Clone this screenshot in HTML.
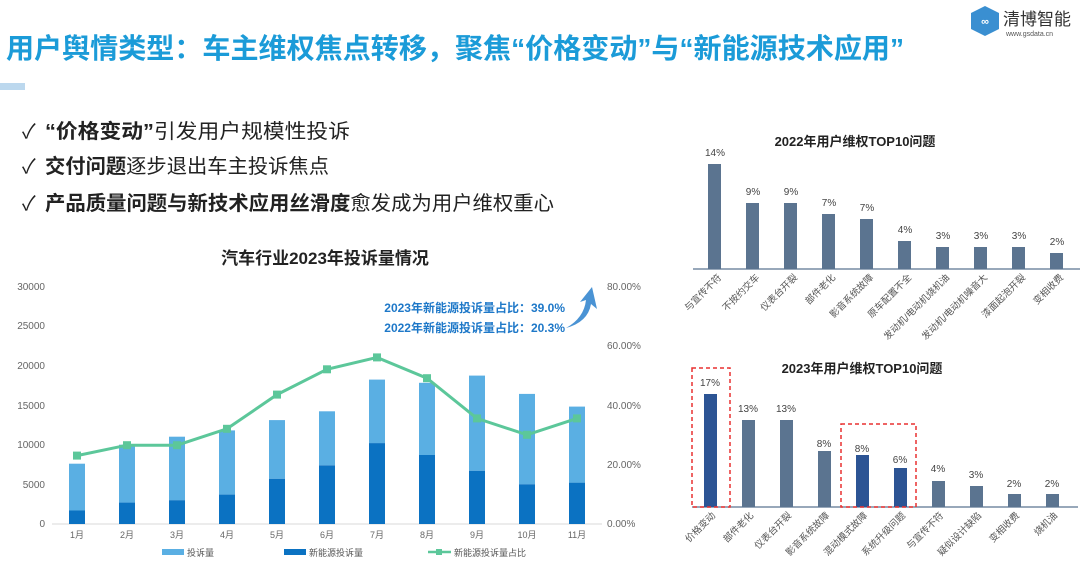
<!DOCTYPE html>
<html><head><meta charset="utf-8"><style>
html,body{margin:0;padding:0;background:#fff;}
svg{display:block;font-family:"Liberation Sans","Noto Sans CJK SC",sans-serif;}
</style></head><body>
<svg width="1080" height="582" viewBox="0 0 1080 582" xmlns="http://www.w3.org/2000/svg">
<!-- header -->
<text x="6" y="58" font-size="28" font-weight="bold" fill="#1b9bd8" textLength="898" lengthAdjust="spacingAndGlyphs">用户舆情类型：车主维权焦点转移，聚焦“价格变动”与“新能源技术应用”</text>
<rect x="0" y="83" width="25" height="7" fill="#bcd8ee"/>
<!-- logo -->
<polygon points="985,6 999,13 999,29 985,36 971,29 971,13" fill="#3a8fd1"/>
<text x="985" y="25" font-size="11" fill="#fff" text-anchor="middle" font-weight="bold">∞</text>
<text x="1003" y="25" font-size="17" fill="#333">清博智能</text>
<text x="1006" y="36" font-size="7" fill="#555">www.gsdata.cn</text>
<!-- bullets -->
<g font-size="20" fill="#222">
<text x="22" y="138">✓</text><text x="45" y="138" textLength="305" lengthAdjust="spacingAndGlyphs"><tspan font-weight="bold">“价格变动”</tspan>引发用户规模性投诉</text>
<text x="22" y="173">✓</text><text x="45" y="173" textLength="284" lengthAdjust="spacingAndGlyphs"><tspan font-weight="bold">交付问题</tspan>逐步退出车主投诉焦点</text>
<text x="22" y="210">✓</text><text x="45" y="210" textLength="509" lengthAdjust="spacingAndGlyphs"><tspan font-weight="bold">产品质量问题与新技术应用丝滑度</tspan>愈发成为用户维权重心</text>
</g>
<!-- left chart -->
<text x="325" y="264" font-size="17" font-weight="bold" fill="#222" text-anchor="middle">汽车行业2023年投诉量情况</text>
<g font-size="10" fill="#666">
<text x="45" y="290" text-anchor="end">30000</text>
<text x="45" y="329" text-anchor="end">25000</text>
<text x="45" y="369" text-anchor="end">20000</text>
<text x="45" y="409" text-anchor="end">15000</text>
<text x="45" y="448" text-anchor="end">10000</text>
<text x="45" y="488" text-anchor="end">5000</text>
<text x="45" y="527" text-anchor="end">0</text>
<text x="607" y="290">80.00%</text>
<text x="607" y="349">60.00%</text>
<text x="607" y="409">40.00%</text>
<text x="607" y="468">20.00%</text>
<text x="607" y="527">0.00%</text>
</g>
<line x1="52" y1="524" x2="602" y2="524" stroke="#d9d9d9"/>
<g font-size="9" fill="#666" text-anchor="middle">
<text x="77" y="538">1月</text><text x="127" y="538">2月</text><text x="177" y="538">3月</text><text x="227" y="538">4月</text><text x="277" y="538">5月</text><text x="327" y="538">6月</text><text x="377" y="538">7月</text><text x="427" y="538">8月</text><text x="477" y="538">9月</text><text x="527" y="538">10月</text><text x="577" y="538">11月</text>
</g>
<g>
<rect x="69" y="463.7" width="16" height="46.8" fill="#5aafe3"/><rect x="69" y="510.5" width="16" height="13.5" fill="#0b72c2"/>
<rect x="119" y="444.7" width="16" height="58" fill="#5aafe3"/><rect x="119" y="502.6" width="16" height="21.4" fill="#0b72c2"/>
<rect x="169" y="436.7" width="16" height="63.5" fill="#5aafe3"/><rect x="169" y="500.2" width="16" height="23.8" fill="#0b72c2"/>
<rect x="219" y="430.4" width="16" height="64.2" fill="#5aafe3"/><rect x="219" y="494.6" width="16" height="29.4" fill="#0b72c2"/>
<rect x="269" y="420.1" width="16" height="58.7" fill="#5aafe3"/><rect x="269" y="478.8" width="16" height="45.2" fill="#0b72c2"/>
<rect x="319" y="411.3" width="16" height="53.9" fill="#5aafe3"/><rect x="319" y="465.3" width="16" height="58.7" fill="#0b72c2"/>
<rect x="369" y="379.6" width="16" height="63.5" fill="#5aafe3"/><rect x="369" y="443.1" width="16" height="80.9" fill="#0b72c2"/>
<rect x="419" y="382.8" width="16" height="72.2" fill="#5aafe3"/><rect x="419" y="455" width="16" height="69" fill="#0b72c2"/>
<rect x="469" y="375.6" width="16" height="95.2" fill="#5aafe3"/><rect x="469" y="470.8" width="16" height="53.2" fill="#0b72c2"/>
<rect x="519" y="393.9" width="16" height="90.4" fill="#5aafe3"/><rect x="519" y="484.3" width="16" height="39.7" fill="#0b72c2"/>
<rect x="569" y="406.6" width="16" height="76.2" fill="#5aafe3"/><rect x="569" y="482.7" width="16" height="41.3" fill="#0b72c2"/>
</g>
<polyline fill="none" stroke="#5cc79a" stroke-width="3" points="77,455.6 127,445.2 177,445.2 227,428.8 277,394.6 327,369.3 377,357.4 427,378.2 477,418.4 527,434.8 577,418.4"/>
<g fill="#5cc79a">
<rect x="73" y="451.6" width="8" height="8"/><rect x="123" y="441.2" width="8" height="8"/><rect x="173" y="441.2" width="8" height="8"/><rect x="223" y="424.8" width="8" height="8"/><rect x="273" y="390.6" width="8" height="8"/><rect x="323" y="365.3" width="8" height="8"/><rect x="373" y="353.4" width="8" height="8"/><rect x="423" y="374.2" width="8" height="8"/><rect x="473" y="414.4" width="8" height="8"/><rect x="523" y="430.8" width="8" height="8"/><rect x="573" y="414.4" width="8" height="8"/>
</g>
<g font-size="12" font-weight="bold" fill="#1e78c8" text-anchor="end">
<text x="565" y="312">2023年新能源投诉量占比：39.0%</text>
<text x="565" y="332">2022年新能源投诉量占比：20.3%</text>
</g>
<path d="M566,328 Q584,318 586,300 L580,302 L592,287 L597,309 L591,304 Q588,322 566,328 Z" fill="#4a93d4"/>
<!-- legend -->
<rect x="162" y="549" width="22" height="6" fill="#5aafe3"/><text x="187" y="556" font-size="9" fill="#555">投诉量</text>
<rect x="284" y="549" width="22" height="6" fill="#0b72c2"/><text x="309" y="556" font-size="9" fill="#555">新能源投诉量</text>
<line x1="428" y1="552" x2="451" y2="552" stroke="#5cc79a" stroke-width="2.5"/><rect x="436" y="549" width="6" height="6" fill="#5cc79a"/><text x="454" y="556" font-size="9" fill="#555">新能源投诉量占比</text>

<!-- top right chart -->
<text x="855" y="146" font-size="13" font-weight="bold" fill="#222" text-anchor="middle">2022年用户维权TOP10问题</text>
<line x1="693" y1="269" x2="1080" y2="269" stroke="#5b7490" stroke-width="1.2"/>
<g fill="#5b7490">
<rect x="708" y="164" width="13" height="105"/><rect x="746" y="203" width="13" height="66"/><rect x="784" y="203" width="13" height="66"/><rect x="822" y="214" width="13" height="55"/><rect x="860" y="219" width="13" height="50"/><rect x="898" y="241" width="13" height="28"/><rect x="936" y="247" width="13" height="22"/><rect x="974" y="247" width="13" height="22"/><rect x="1012" y="247" width="13" height="22"/><rect x="1050" y="253" width="13" height="16"/>
</g>
<g font-size="10" fill="#444" text-anchor="middle">
<text x="715" y="156">14%</text><text x="753" y="195">9%</text><text x="791" y="195">9%</text><text x="829" y="206">7%</text><text x="867" y="211">7%</text><text x="905" y="233">4%</text><text x="943" y="239">3%</text><text x="981" y="239">3%</text><text x="1019" y="239">3%</text><text x="1057" y="245">2%</text>
</g>
<g font-size="9.5" fill="#555" text-anchor="end">
<text transform="translate(722,278) rotate(-45)">与宣传不符</text>
<text transform="translate(760,278) rotate(-45)">不按约交车</text>
<text transform="translate(798,278) rotate(-45)">仪表台开裂</text>
<text transform="translate(836,278) rotate(-45)">部件老化</text>
<text transform="translate(874,278) rotate(-45)">影音系统故障</text>
<text transform="translate(912,278) rotate(-45)">原车配置不全</text>
<text transform="translate(950,278) rotate(-45)">发动机/电动机烧机油</text>
<text transform="translate(988,278) rotate(-45)">发动机/电动机噪音大</text>
<text transform="translate(1026,278) rotate(-45)">漆面起泡开裂</text>
<text transform="translate(1064,278) rotate(-45)">变相收费</text>
</g>

<!-- bottom right chart -->
<text x="862" y="373" font-size="13" font-weight="bold" fill="#222" text-anchor="middle">2023年用户维权TOP10问题</text>
<line x1="692" y1="507" x2="1078" y2="507" stroke="#5b7490" stroke-width="1.2"/>
<g fill="#5b7490">
<rect x="704" y="394" width="13" height="113" fill="#2c5494"/><rect x="742" y="420" width="13" height="87"/><rect x="780" y="420" width="13" height="87"/><rect x="818" y="451" width="13" height="56"/><rect x="856" y="455" width="13" height="52" fill="#2c5494"/><rect x="894" y="468" width="13" height="39" fill="#2c5494"/><rect x="932" y="481" width="13" height="26"/><rect x="970" y="486" width="13" height="21"/><rect x="1008" y="494" width="13" height="13"/><rect x="1046" y="494" width="13" height="13"/>
</g>
<g font-size="10" fill="#444" text-anchor="middle">
<text x="710" y="386">17%</text><text x="748" y="412">13%</text><text x="786" y="412">13%</text><text x="824" y="447">8%</text><text x="862" y="452">8%</text><text x="900" y="463">6%</text><text x="938" y="472">4%</text><text x="976" y="478">3%</text><text x="1014" y="487">2%</text><text x="1052" y="487">2%</text>
</g>
<rect x="692" y="368" width="38" height="139" fill="none" stroke="#e83030" stroke-width="1.5" stroke-dasharray="4,3"/>
<rect x="841" y="424" width="75" height="83" fill="none" stroke="#e83030" stroke-width="1.5" stroke-dasharray="4,3"/>
<g font-size="9.5" fill="#555" text-anchor="end">
<text transform="translate(716,516) rotate(-45)">价格变动</text>
<text transform="translate(754,516) rotate(-45)">部件老化</text>
<text transform="translate(792,516) rotate(-45)">仪表台开裂</text>
<text transform="translate(830,516) rotate(-45)">影音系统故障</text>
<text transform="translate(868,516) rotate(-45)">混动模式故障</text>
<text transform="translate(906,516) rotate(-45)">系统升级问题</text>
<text transform="translate(944,516) rotate(-45)">与宣传不符</text>
<text transform="translate(982,516) rotate(-45)">疑似设计缺陷</text>
<text transform="translate(1020,516) rotate(-45)">变相收费</text>
<text transform="translate(1058,516) rotate(-45)">烧机油</text>
</g>
</svg>
</body></html>
